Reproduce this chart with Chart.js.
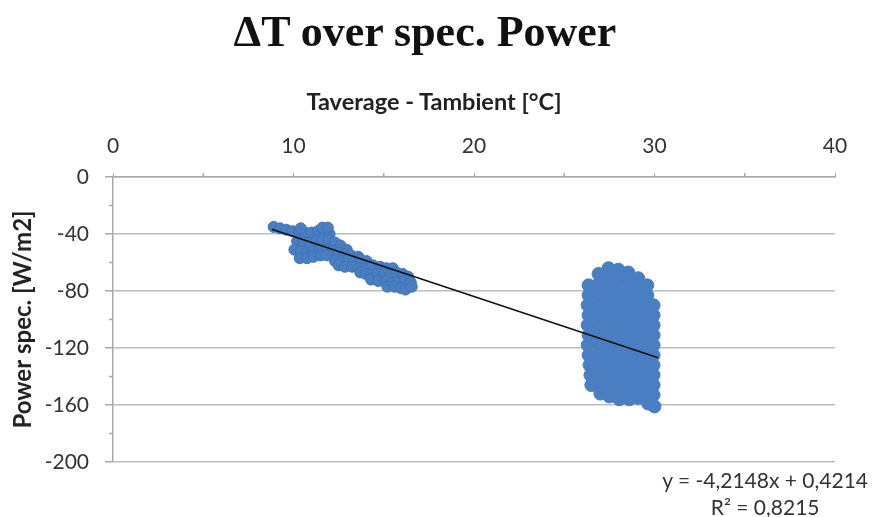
<!DOCTYPE html>
<html>
<head>
<meta charset="utf-8">
<script src="https://cdn.jsdelivr.net/npm/chart.js@4/dist/chart.umd.min.js"></script>
<style>
  html,body{margin:0;padding:0;background:#fff;}
  #wrap{position:relative;width:872px;height:517px;}
  .lbl{position:absolute;white-space:nowrap;text-align:center;}
  #title{left:0;width:850px;top:7px;font-family:'Liberation Serif','Times New Roman',serif;font-weight:bold;font-size:44px;line-height:50px;color:#111;}
  #xtitle{left:0;width:868px;top:87px;font-family:Lato,'Open Sans',sans-serif;font-weight:bold;font-size:23.5px;line-height:28px;color:#222;}
  #eq{right:4px;top:466px;font-family:Lato,'Open Sans',sans-serif;font-size:21px;color:#333;line-height:27px;}
</style>
</head>
<body>
<div id="wrap">
  <canvas id="c" width="872" height="517"></canvas>
  <div id="title" class="lbl"></div>
  <div id="xtitle" class="lbl"></div>
  <div id="eq" class="lbl">y = -4,2148x + 0,4214<br>R² = 0,8215</div>
</div>
<script>
const chartTitle = 'ΔT over spec. Power';
const xTitle = 'Taverage - Tambient [°C]';
const yTitle = 'Power spec. [W/m2]';
const xTickValues = [0, 10, 20, 30, 40];
const yTickValues = [0, -40, -80, -120, -160, -200];
const xMinorTicks = [5, 15, 25, 35];
const yMinorTicks = [-20, -60, -100, -140, -180];
const trendSlope = -4.2148;
const trendIntercept = 0.4214;
const trendRange = [8.8, 30.2];

// low delta-T cluster (x = dT, y = power)
const lowCluster = [
  [8.9,-35],[9.25,-36],[9.6,-37],[9.95,-38],[10.3,-38.5],[10.65,-39],[11.0,-39],[11.35,-38],[11.7,-37.5],[12.0,-40],
  [10.4,-36],[11.6,-35.5],[11.9,-35.5],
  [10.2,-45],[10.55,-46],[10.9,-46],[11.25,-45],[11.6,-44],[11.95,-44],[12.3,-46],[12.6,-48],[12.95,-51],
  [10.05,-51],[10.4,-52],[10.75,-53],[11.1,-52],[11.45,-51],[11.8,-51],[12.15,-52],[12.5,-53],[12.85,-54],[13.2,-55],[13.6,-56],
  [10.35,-57],[10.75,-57],[11.1,-56],[11.5,-55],[11.85,-55],[12.3,-59],[12.65,-59],[13.0,-58],[13.35,-59],[13.7,-58],[14.05,-59],
  [12.5,-62],[12.85,-63],[13.25,-63],[13.6,-64],[14.0,-64],[14.4,-62],[14.8,-63],[15.15,-64],[15.5,-64],
  [13.7,-67],[14.0,-68],[14.3,-69],[14.65,-68],[15.0,-68],[15.35,-69],[15.7,-67],[16.05,-68],[16.35,-70],
  [14.3,-72],[14.7,-73],[15.1,-73],[15.45,-74],[15.8,-74],[16.15,-73],[16.5,-74],
  [15.2,-77],[15.6,-77],[15.95,-78],[16.2,-79],[16.55,-77]
];

// high delta-T cluster
const highCluster = [
  [26.35,-76],[26.35,-83],[26.3,-90],[26.35,-97],[26.3,-104],[26.35,-111],[26.3,-118],[26.35,-125],[26.4,-132],[26.45,-139],[26.5,-146],
  [26.9,-68],[26.9,-75],[26.85,-82],[26.9,-89],[26.85,-96],[26.9,-103],[26.85,-110],[26.9,-117],[26.9,-124],[26.9,-131],[26.95,-138],[26.95,-145],[27.0,-152],
  [27.45,-64],[27.45,-71],[27.45,-78],[27.45,-85],[27.45,-92],[27.45,-99],[27.45,-106],[27.45,-113],[27.45,-120],[27.45,-127],[27.45,-134],[27.45,-141],[27.5,-148],[27.5,-154],
  [28.0,-65],[28.0,-72],[28.0,-80],[28.0,-87],[28.0,-94],[28.0,-101],[28.0,-108],[28.0,-115],[28.0,-122],[28.0,-129],[28.0,-136],[28.0,-143],[28.0,-150],[28.05,-156],
  [28.55,-67],[28.55,-74],[28.55,-81],[28.55,-88],[28.55,-95],[28.55,-102],[28.55,-109],[28.55,-116],[28.55,-123],[28.55,-130],[28.55,-137],[28.55,-144],[28.55,-151],[28.6,-156],
  [29.1,-71],[29.1,-78],[29.1,-85],[29.1,-92],[29.1,-99],[29.1,-106],[29.1,-113],[29.1,-120],[29.1,-127],[29.1,-134],[29.1,-141],[29.1,-148],[29.1,-155],
  [29.6,-76],[29.6,-83],[29.6,-90],[29.6,-97],[29.6,-104],[29.6,-111],[29.6,-118],[29.6,-125],[29.6,-132],[29.6,-139],[29.6,-146],[29.6,-153],[29.65,-159],
  [29.95,-90],[29.95,-97],[29.95,-104],[29.95,-111],[29.95,-118],[29.95,-125],[29.95,-132],[29.95,-139],[29.95,-146],[29.95,-153],[30.0,-161]
];

document.getElementById('title').textContent = chartTitle;
document.getElementById('xtitle').textContent = xTitle;

const toPts = arr => arr.map(p => ({x: p[0], y: p[1]}));
const trendPts = trendRange.map(x => ({x: x, y: trendSlope * x + trendIntercept}));

const minorTicks = {
  id: 'minorTicks',
  afterDraw(chart) {
    const ctx = chart.ctx, xs = chart.scales.x, ys = chart.scales.y;
    const a = chart.chartArea;
    ctx.save();
    ctx.strokeStyle = '#a8a8a8';
    ctx.lineWidth = 1.5;
    ctx.beginPath();
    yMinorTicks.forEach(v => { const py = ys.getPixelForValue(v); ctx.moveTo(a.left - 4, py); ctx.lineTo(a.left, py); });
    xMinorTicks.forEach(v => { const px = xs.getPixelForValue(v); ctx.moveTo(px, a.top - 4); ctx.lineTo(px, a.top); });
    ctx.stroke();
    ctx.restore();
  }
};

new Chart(document.getElementById('c'), {
  type: 'scatter',
  data: {
    datasets: [
      { type: 'line', data: trendPts, borderColor: '#111', borderWidth: 1.6, pointRadius: 0, fill: false, order: 0 },
      { data: toPts(lowCluster), backgroundColor: '#4a7ec2', borderColor: '#3f73b6', borderWidth: 1, pointRadius: 5.5, order: 1 },
      { data: toPts(highCluster), backgroundColor: '#4a7ec2', borderColor: '#4a7ec2', borderWidth: 1, pointRadius: 6.5, order: 2 }
    ]
  },
  options: {
    responsive: false,
    animation: false,
    devicePixelRatio: 1,
    layout: { padding: { left: 0, right: 37, top: 123.6, bottom: 55 } },
    plugins: {
      legend: { display: false },
      tooltip: { enabled: false },
      title: { display: false }
    },
    scales: {
      x: {
        type: 'linear', position: 'top', min: 0, max: 40,
        afterBuildTicks: s => { s.ticks = xTickValues.map(v => ({value: v})); },
        afterFit: s => { s.height = 53.4; },
        border: { display: true, color: '#a8a8a8', width: 1.5 },
        grid: { drawOnChartArea: false, drawTicks: true, tickLength: 4, color: '#a8a8a8' },
        ticks: { color: '#333', font: { family: "Lato,'Open Sans',sans-serif", size: 21 }, padding: 14, maxRotation: 0 }
      },
      y: {
        type: 'linear', min: -200, max: 0,
        afterBuildTicks: s => { s.ticks = yTickValues.map(v => ({value: v})); },
        afterFit: s => { s.width = 113; },
        border: { display: true, color: '#a8a8a8', width: 1.5 },
        grid: { color: '#bcbcbc', lineWidth: 1.5, drawTicks: true, tickLength: 8, tickColor: '#a8a8a8' },
        ticks: { color: '#333', font: { family: "Lato,'Open Sans',sans-serif", size: 21 }, padding: 16 },
        title: { display: true, text: yTitle, color: '#222', font: { family: "Lato,'Open Sans',sans-serif", size: 24, weight: 'bold' }, padding: { top: 9, bottom: 0 } }
      }
    }
  },
  plugins: [minorTicks]
});
</script>
</body>
</html>
